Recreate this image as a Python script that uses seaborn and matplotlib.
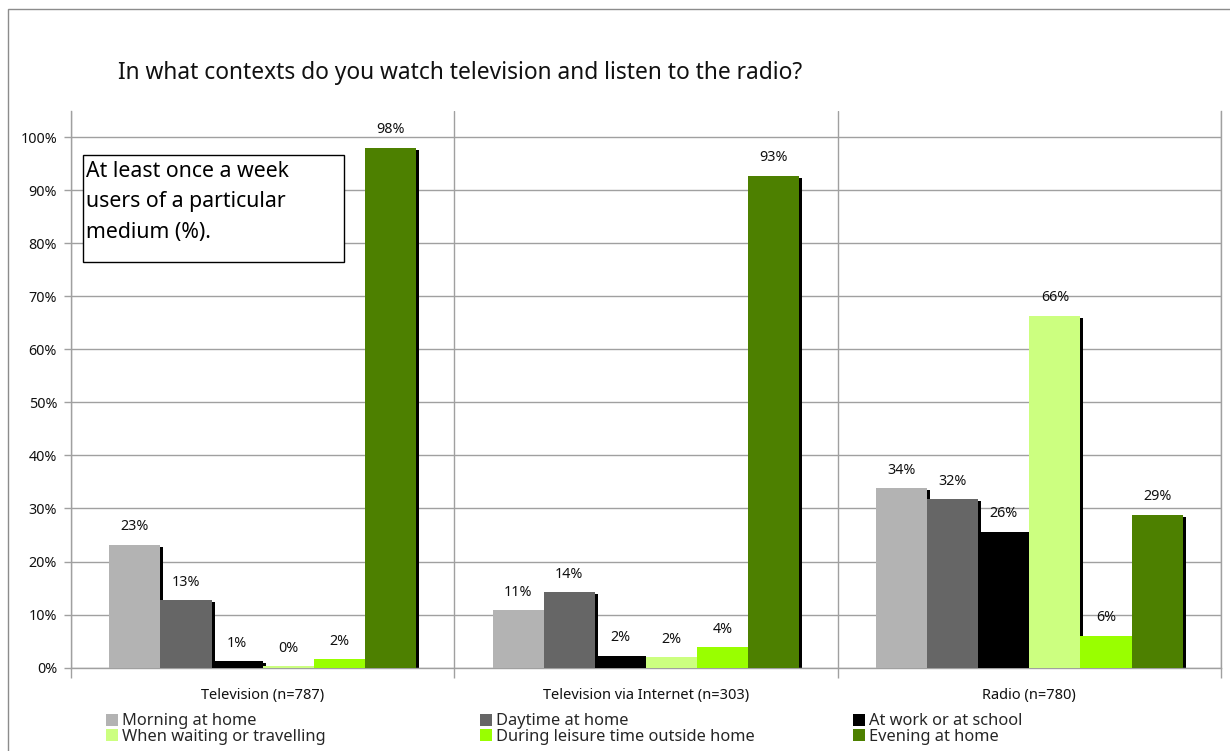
import matplotlib
matplotlib.use("Agg")
import matplotlib.pyplot as plt
from matplotlib.patches import Rectangle, Patch
import seaborn as sns
import pandas as pd

# --- data -----------------------------------------------------------------
media = ["Television (n=787)", "Television via Internet (n=303)", "Radio (n=780)"]
contexts = [
    "Morning at home",
    "Daytime at home",
    "At work or at school",
    "When waiting or travelling",
    "During leisure time outside home",
    "Evening at home",
]
tv_values = [23.2, 12.7, 1.2, 0.2, 1.6, 98.1]
internet_tv_values = [10.8, 14.2, 2.2, 1.9, 3.8, 92.8]
radio_values = [33.8, 31.8, 25.6, 66.4, 6.0, 28.8]
y_ticks = [0, 10, 20, 30, 40, 50, 60, 70, 80, 90, 100]
colors = ["#B3B3B3", "#666666", "#000000", "#CCFF80", "#99FF00", "#4D8000"]

title = "In what contexts do you watch television and listen to the radio?"
note_lines = ["At least once a week", "users of a particular", "medium (%)."]

rows = []
for medium, vals in zip(media, [tv_values, internet_tv_values, radio_values]):
    for ctx, v in zip(contexts, vals):
        rows.append({"medium": medium, "context": ctx, "value": v})
df = pd.DataFrame(rows)

# --- style ----------------------------------------------------------------
sns.set_theme(style="white")
plt.rcParams["font.family"] = ["Noto Sans", "DejaVu Sans"]
GRID = "#a0a0a0"
W, H = 1230, 751

fig = plt.figure(figsize=(W / 100, H / 100), dpi=100)
fig.patch.set_facecolor("white")

# plot area in pixel terms: left 71, right 1221, top 111, baseline 667.5
ax = fig.add_axes([71 / W, (H - 667.5) / H, 1150 / W, 556.5 / H])

sns.barplot(
    data=df, x="medium", y="value", hue="context",
    order=media, hue_order=contexts, palette=colors,
    saturation=1, width=0.8, errorbar=None, legend=False,
    linewidth=0, edgecolor="none", ax=ax, zorder=3,
)

ax.set_xlim(-0.5, 2.5)
ax.set_ylim(0, 105)

# drop shadows: black copy shifted right and down behind every bar
px_x = 3 / 383.3
px_y = 2 * 105 / 556.5
for p in list(ax.patches):
    h = p.get_height()
    if h - px_y > 0:
        ax.add_patch(Rectangle((p.get_x() + px_x, 0), p.get_width(), h - px_y,
                               facecolor="black", edgecolor="none", zorder=2))

# value labels
for cont in ax.containers:
    ax.bar_label(cont, fmt="{:.0f}%", padding=7.5, fontsize=10.3,
                 color="#111111", zorder=4)

# axes styling
ax.set_yticks(y_ticks)
ax.set_yticklabels([f"{t}%" for t in y_ticks])
ax.set_xlabel("")
ax.set_ylabel("")
ax.yaxis.grid(True, color=GRID, linewidth=1, zorder=0)
ax.set_axisbelow(True)
ax.set_xticks([-0.5, 0.5, 1.5, 2.5], minor=True)
ax.xaxis.grid(True, which="minor", color=GRID, linewidth=1)
ax.tick_params(axis="x", which="major", length=0, pad=15, labelsize=10.5,
               labelcolor="#111111")
ax.tick_params(axis="x", which="minor", length=7, width=1, color=GRID,
               direction="out", bottom=True)
ax.tick_params(axis="y", length=5, width=1, color=GRID, direction="out",
               left=True, pad=5, labelsize=10.3, labelcolor="#111111")
for side in ["left", "right", "bottom"]:
    ax.spines[side].set_visible(True)
    ax.spines[side].set_color(GRID)
    ax.spines[side].set_linewidth(1)
ax.spines["top"].set_visible(False)

# title
fig.text(118 / W, 1 - 79 / H, title, fontsize=16.4, color="#111111",
         ha="left", va="baseline")

# note box
fig.patches.append(Rectangle((82.5 / W, 1 - 262 / H), 261 / W, 107 / H,
                             transform=fig.transFigure, facecolor="white",
                             edgecolor="black", linewidth=1, zorder=5))
for i, line in enumerate(note_lines):
    fig.text(86.5 / W, 1 - (176.7 + 30.5 * i) / H, line, fontsize=15.3,
             color="black", ha="left", va="baseline", zorder=6)

# legend, split into three columns
legend_x = [106, 480, 853]
for col, x in enumerate(legend_x):
    handles = [Patch(facecolor=colors[i], edgecolor="none", label=contexts[i])
               for i in (col, col + 3)]
    fig.legend(handles=handles, loc="center left",
               bbox_to_anchor=(x / W, 1 - 729 / H), frameon=False,
               fontsize=11.8, borderpad=0, borderaxespad=0,
               handlelength=0.75, handleheight=0.75, handletextpad=0.2,
               labelspacing=-0.05)

# outer frame
fig.patches.append(Rectangle((7.5 / W, -0.1), 1.2, (H - 9) / H + 0.1,
                             transform=fig.transFigure, facecolor="none",
                             edgecolor="#8c8c8c", linewidth=1, zorder=0))

fig.savefig("out.png", dpi=100, facecolor="white")
